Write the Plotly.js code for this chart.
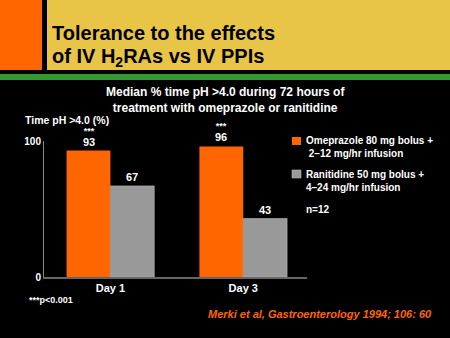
<!DOCTYPE html>
<html>
<head>
<meta charset="utf-8">
<script src="https://cdn.plot.ly/plotly-3.0.1.min.js"></script>
<style>html,body{margin:0;padding:0;background:#000;}#chart{width:450px;height:338px;}</style>
</head>
<body>
<div id="chart"></div>
<script>
const categories = ['Day 1', 'Day 3'];
const omeprazole = [93, 96];
const ranitidine = [67, 43];
const significance = ['***', '***'];
const seriesNames = ['Omeprazole 80 mg bolus +<br> 2\u201312 mg/hr infusion', 'Ranitidine 50 mg bolus +<br>4\u201324 mg/hr infusion'];
const yTicks = [0, 100];

const W = 450, H = 338;
const L = 44, R = 307, T = 141, B = 277;
const px = x => (x - L) / (R - L);
const py = y => (B - y) / (B - T);

const FONT = 'Liberation Sans, Arial, sans-serif';
const orange = '#ff6600', grey = '#999999';

const catIdx = categories.map((c, i) => i);
const bargap = 0.34;
const half = (1 - bargap) / 4;

const traces = [
  {type: 'bar', x: catIdx, y: omeprazole, name: 'Omeprazole', marker: {color: orange}, hoverinfo: 'skip'},
  {type: 'bar', x: catIdx, y: ranitidine, name: 'Ranitidine', marker: {color: grey, line: {color: '#bbbbbb', width: 0.6}}, hoverinfo: 'skip'}
];

const white = {family: FONT, size: 11, color: '#ffffff'};
const annotations = [];
catIdx.forEach(i => {
  annotations.push({x: i - half, y: omeprazole[i], xref: 'x', yref: 'y',
    text: '<span style="font-size:9px"><b>' + significance[i] + '</b></span><br><span style="font-size:11px"><b>' + omeprazole[i] + '</b></span>',
    showarrow: false, yanchor: 'bottom', yshift: 1, font: {family: FONT, size: 9.6, color: '#ffffff'}});
  annotations.push({x: i + half, y: ranitidine[i], xref: 'x', yref: 'y', text: '<b>' + ranitidine[i] + '</b>', showarrow: false, yanchor: 'bottom', yshift: 1, font: white});
});

// header title (two lines)
annotations.push({xref: 'paper', yref: 'paper', x: px(50), y: py(33), xanchor: 'left', yanchor: 'middle', align: 'left', showarrow: false,
  text: '<b>Tolerance to the effects</b>', font: {family: FONT, size: 20, color: '#000000'}});
annotations.push({xref: 'paper', yref: 'paper', x: px(50), y: py(57), xanchor: 'left', yanchor: 'middle', align: 'left', showarrow: false,
  text: '<b>of IV H<sub>2</sub>RAs vs IV PPIs</b>', font: {family: FONT, size: 20, color: '#000000'}});
// subtitle
annotations.push({xref: 'paper', yref: 'paper', x: px(225), y: py(83), xanchor: 'center', yanchor: 'top', showarrow: false,
  text: '<b>Median % time pH >4.0 during 72 hours of<br>treatment with omeprazole or ranitidine</b>', font: {family: FONT, size: 12, color: '#ffffff'}});
// y axis title
annotations.push({xref: 'paper', yref: 'paper', x: px(23), y: py(120), xanchor: 'left', yanchor: 'middle', showarrow: false,
  text: '<b>Time pH >4.0 (%)</b>', font: {family: FONT, size: 10.5, color: '#ffffff'}});
// legend texts
annotations.push({xref: 'paper', yref: 'paper', x: px(304), y: py(133), xanchor: 'left', yanchor: 'top', align: 'left', showarrow: false,
  text: '<b>' + seriesNames[0] + '</b>', font: {family: FONT, size: 10, color: '#ffffff'}});
annotations.push({xref: 'paper', yref: 'paper', x: px(304), y: py(167), xanchor: 'left', yanchor: 'top', align: 'left', showarrow: false,
  text: '<b>' + seriesNames[1] + '</b>', font: {family: FONT, size: 10, color: '#ffffff'}});
annotations.push({xref: 'paper', yref: 'paper', x: px(304), y: py(209), xanchor: 'left', yanchor: 'middle', showarrow: false,
  text: '<b>n=12</b>', font: {family: FONT, size: 10, color: '#ffffff'}});
// footnote
annotations.push({xref: 'paper', yref: 'paper', x: px(27), y: py(300), xanchor: 'left', yanchor: 'middle', showarrow: false,
  text: '<b>***p<0.001</b>', font: {family: FONT, size: 9, color: '#ffffff'}});
// citation
annotations.push({xref: 'paper', yref: 'paper', x: px(434), y: py(314), xanchor: 'right', yanchor: 'middle', showarrow: false,
  text: '<b><i>Merki et al, Gastroenterology 1994; 106: 60</i></b>', font: {family: FONT, size: 11, color: orange}});

const rect = (x0, y0, x1, y1, color) => ({type: 'rect', xref: 'paper', yref: 'paper', x0: px(x0), x1: px(x1), y0: py(y1), y1: py(y0), fillcolor: color, line: {width: 0}, layer: 'below'});
const shapes = [
  rect(0, 0, 42, 70, orange),
  rect(42, 0, 47, 70, '#000000'),
  rect(47, 0, 450, 70, '#e8c547'),
  rect(0, 74, 450, 80, '#339933'),
  // legend swatches
  rect(292, 137, 301, 145, orange),
  {type: 'rect', xref: 'paper', yref: 'paper', x0: px(292), x1: px(301), y0: py(178), y1: py(170), fillcolor: grey, line: {color: '#bbbbbb', width: 0.6}, layer: 'below'}
];

const layout = {
  width: W, height: H,
  margin: {l: L, r: W - R, t: T, b: H - B, pad: 0},
  paper_bgcolor: '#000000', plot_bgcolor: '#000000',
  showlegend: false,
  barmode: 'group', bargap: bargap, bargroupgap: 0,
  xaxis: {range: [-0.5, 1.48], tickvals: catIdx, ticktext: categories.map(c => '<b>' + c + '</b>'), showgrid: false, zeroline: false,
    showline: true, linecolor: '#666666', linewidth: 1.5, ticks: '', tickfont: {family: FONT, size: 11, color: '#ffffff'}, fixedrange: true},
  yaxis: {range: [0, 100], tickvals: yTicks, ticktext: yTicks.map(v => '<b>' + v + '</b>'), showgrid: false, zeroline: false,
    showline: true, linecolor: '#888888', linewidth: 1, ticks: 'inside', ticklen: 5, tickcolor: '#888888', tickfont: {family: FONT, size: 10, color: '#ffffff'}, fixedrange: true},
  annotations: annotations,
  shapes: shapes
};

Plotly.newPlot('chart', traces, layout, {displayModeBar: false, staticPlot: true});
</script>
</body>
</html>
